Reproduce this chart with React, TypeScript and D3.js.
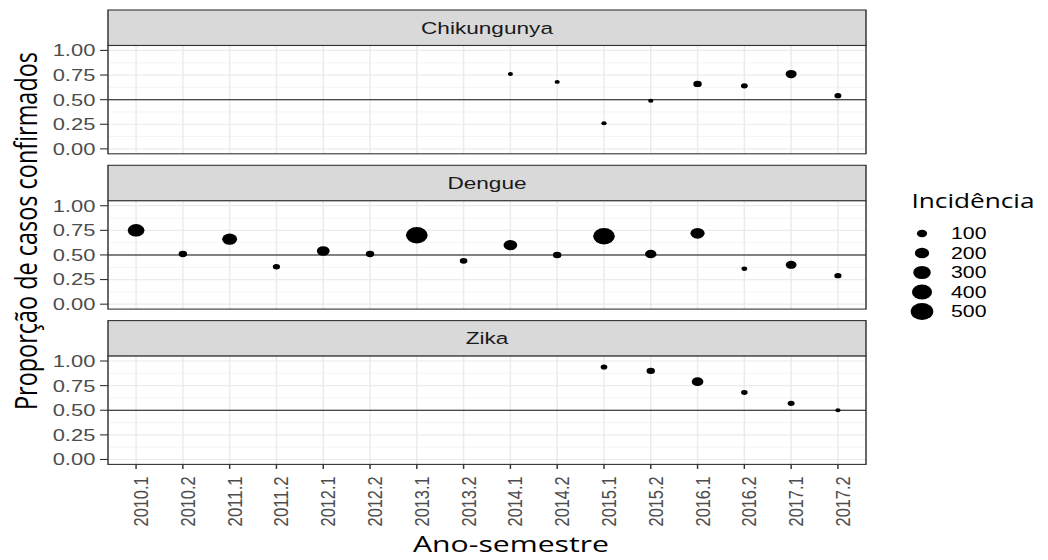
import React, { useEffect, useRef } from 'react';
import * as d3 from 'd3';

// semesters on the x axis
const semesters = [
  '2010.1', '2010.2', '2011.1', '2011.2', '2012.1', '2012.2', '2013.1', '2013.2',
  '2014.1', '2014.2', '2015.1', '2015.2', '2016.1', '2016.2', '2017.1', '2017.2',
];
const diseases = ['Chikungunya', 'Dengue', 'Zika'];

// Chikungunya (only from 2014)
const chikSemesters = ['2014.1', '2014.2', '2015.1', '2015.2', '2016.1', '2016.2', '2017.1', '2017.2'];
const chikProportion = [0.76, 0.68, 0.26, 0.49, 0.66, 0.64, 0.76, 0.54];
const chikIncidence = [26, 26, 28, 28, 70, 47, 120, 47];

// Dengue (all semesters)
const dengueProportion = [0.75, 0.51, 0.66, 0.38, 0.54, 0.51, 0.7, 0.44, 0.6, 0.5, 0.69, 0.51, 0.72, 0.36, 0.4, 0.29];
const dengueIncidence = [274, 70, 217, 51, 160, 70, 459, 57, 185, 70, 459, 128, 198, 32, 115, 51];

// Zika (from 2015)
const zikaSemesters = ['2015.1', '2015.2', '2016.1', '2016.2', '2017.1', '2017.2'];
const zikaProportion = [0.94, 0.9, 0.79, 0.68, 0.57, 0.5];
const zikaIncidence = [45, 70, 134, 41, 47, 26];

const yTicks = [0, 0.25, 0.5, 0.75, 1];
const yTickLabels = ['0.00', '0.25', '0.50', '0.75', '1.00'];
const yMinor = [0.125, 0.375, 0.625, 0.875];
const legendValues = [100, 200, 300, 400, 500];

// the reference is stretched horizontally
const SX = 1.33;
const W = 1048;
const H = 560;

function App() {
  const ref = useRef<SVGSVGElement>(null);

  useEffect(() => {
    const svg = d3.select(ref.current);
    svg.selectAll('*').remove();
    const g = svg.append('g').attr('transform', `scale(${SX},1)`);

    const left = 108 / SX;
    const right = 866 / SX;
    const stripH = 35.5;
    const panelH = 108.3;
    const gap = 11.5;
    const top0 = 10;

    const x = d3.scalePoint<string>().domain(semesters).range([left, right]).padding(0.6);
    const r = d3.scaleSqrt().domain([0, 600]).range([0, 9.3]);

    const series = [
      { cats: chikSemesters, prop: chikProportion, inc: chikIncidence },
      { cats: semesters, prop: dengueProportion, inc: dengueIncidence },
      { cats: zikaSemesters, prop: zikaProportion, inc: zikaIncidence },
    ];

    const tickFont = 'Liberation Sans, Arial, sans-serif';
    const titleFont = 'Open Sans, sans-serif';

    let lastBottom = 0;
    diseases.forEach((name, i) => {
      const sTop = top0 + i * (stripH + panelH + gap);
      const pTop = sTop + stripH;
      const pBot = pTop + panelH;
      lastBottom = pBot;
      const y = d3.scaleLinear().domain([-0.05, 1.05]).range([pBot, pTop]);

      // strip
      g.append('rect')
        .attr('x', left).attr('y', sTop)
        .attr('width', right - left).attr('height', stripH)
        .attr('fill', '#D9D9D9').attr('stroke', '#333333').attr('stroke-width', 1.1);
      g.append('text')
        .attr('x', (left + right) / 2).attr('y', sTop + stripH / 2 + 6)
        .attr('text-anchor', 'middle')
        .attr('font-family', tickFont).attr('font-size', 17)
        .attr('fill', '#1A1A1A')
        .text(name);

      // panel background and grid
      g.append('rect')
        .attr('x', left).attr('y', pTop)
        .attr('width', right - left).attr('height', panelH)
        .attr('fill', 'white');
      g.selectAll(null).data(yMinor).enter().append('line')
        .attr('x1', left).attr('x2', right)
        .attr('y1', d => y(d)).attr('y2', d => y(d))
        .attr('stroke', '#F2F2F2').attr('stroke-width', 0.7);
      g.selectAll(null).data(yTicks).enter().append('line')
        .attr('x1', left).attr('x2', right)
        .attr('y1', d => y(d)).attr('y2', d => y(d))
        .attr('stroke', '#EBEBEB').attr('stroke-width', 1.2);
      g.selectAll(null).data(semesters).enter().append('line')
        .attr('x1', d => x(d)!).attr('x2', d => x(d)!)
        .attr('y1', pTop).attr('y2', pBot)
        .attr('stroke', '#EBEBEB').attr('stroke-width', 1.1);

      // reference line at 0.5
      g.append('line')
        .attr('x1', left).attr('x2', right)
        .attr('y1', y(0.5)).attr('y2', y(0.5))
        .attr('stroke', '#111').attr('stroke-width', 1);

      // points
      const s = series[i];
      g.selectAll(null).data(s.cats).enter().append('circle')
        .attr('cx', d => x(d)!)
        .attr('cy', (d, j) => y(s.prop[j]))
        .attr('r', (d, j) => r(s.inc[j]))
        .attr('fill', 'black');

      // border
      g.append('rect')
        .attr('x', left).attr('y', pTop)
        .attr('width', right - left).attr('height', panelH)
        .attr('fill', 'none').attr('stroke', '#333333').attr('stroke-width', 1.1);

      // y axis
      g.selectAll(null).data(yTicks).enter().append('line')
        .attr('x1', left - 6).attr('x2', left)
        .attr('y1', d => y(d)).attr('y2', d => y(d))
        .attr('stroke', '#333333').attr('stroke-width', 1.1);
      g.selectAll(null).data(yTicks).enter().append('text')
        .attr('x', left - 9.5)
        .attr('y', d => y(d))
        .attr('dy', '0.36em')
        .attr('text-anchor', 'end')
        .attr('font-family', tickFont).attr('font-size', 16.5)
        .attr('fill', '#4D4D4D')
        .text((d, j) => yTickLabels[j]);
    });

    // x axis
    g.selectAll(null).data(semesters).enter().append('line')
      .attr('x1', d => x(d)!).attr('x2', d => x(d)!)
      .attr('y1', lastBottom).attr('y2', lastBottom + 4.5)
      .attr('stroke', '#333333').attr('stroke-width', 1.1);
    g.selectAll(null).data(semesters).enter().append('text')
      .attr('transform', d => `translate(${x(d)! + 12 / SX},${lastBottom + 12}) rotate(-90)`)
      .attr('text-anchor', 'end')
      .attr('font-family', tickFont).attr('font-size', 15.5)
      .attr('textLength', 50).attr('lengthAdjust', 'spacingAndGlyphs')
      .attr('fill', '#4D4D4D')
      .text(d => d);

    // axis titles
    g.append('text')
      .attr('x', 511 / SX).attr('y', 552)
      .attr('text-anchor', 'middle')
      .attr('font-family', titleFont).attr('font-size', 22)
      .attr('textLength', 196 / SX).attr('lengthAdjust', 'spacingAndGlyphs')
      .attr('fill', 'black')
      .text('Ano-semestre');
    g.append('text')
      .attr('transform', `translate(${37 / SX},231) rotate(-90)`)
      .attr('text-anchor', 'middle')
      .attr('font-family', titleFont).attr('font-size', 23)
      .attr('textLength', 358).attr('lengthAdjust', 'spacingAndGlyphs')
      .attr('fill', 'black')
      .text('Proporção de casos confirmados');

    // legend
    g.append('text')
      .attr('x', 911.5 / SX).attr('y', 208)
      .attr('font-family', titleFont).attr('font-size', 20)
      .attr('textLength', 123 / SX).attr('lengthAdjust', 'spacingAndGlyphs')
      .attr('fill', 'black')
      .text('Incidência');
    const ly = d3.scalePoint<number>().domain(legendValues).range([233.5, 311.5]);
    g.selectAll(null).data(legendValues).enter().append('circle')
      .attr('cx', 922 / SX)
      .attr('cy', d => ly(d)!)
      .attr('r', d => r(d))
      .attr('fill', 'black');
    g.selectAll(null).data(legendValues).enter().append('text')
      .attr('x', 951 / SX)
      .attr('y', d => ly(d)!)
      .attr('dy', '0.36em')
      .attr('font-family', tickFont).attr('font-size', 16)
      .attr('fill', 'black')
      .text(d => String(d));
  }, []);

  return (
    <svg
      ref={ref}
      width={W}
      height={H}
      style={{ position: 'absolute', left: 0, top: 0, background: 'white' }}
    />
  );
}

export default App;
